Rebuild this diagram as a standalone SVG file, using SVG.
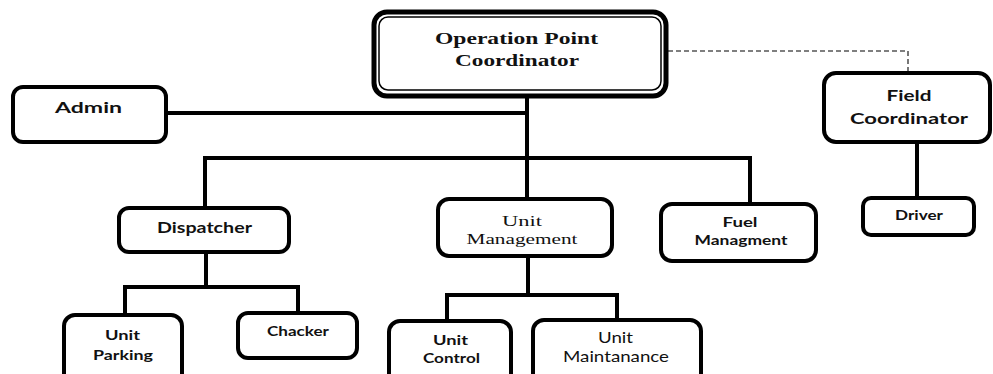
<svg xmlns="http://www.w3.org/2000/svg" width="993" height="374" viewBox="0 0 993 374">
  <style>
    .box { fill: #fff; stroke: #000; stroke-width: 4; }
    .link { fill: none; stroke: #000; stroke-width: 4; }
    .dash { fill: none; stroke: #555; stroke-width: 1.6; stroke-dasharray: 5 3; }
    text { text-anchor: middle; fill: #111; }
    .sans { font-family: Lato, "Liberation Sans", sans-serif; font-weight: bold; font-size: 15px; }
    .sansr { font-family: Lato, "Liberation Sans", sans-serif; font-size: 15px; }
    .serif { font-family: "Liberation Serif", serif; font-size: 15px; }
    .serifb { font-family: "Liberation Serif", serif; font-weight: bold; font-size: 17px; }
  </style>
  <rect width="993" height="374" fill="#fff"/>

  <!-- connectors -->
  <g id="connectors">
    <polyline class="dash" points="668,51 908,51 908,72"/>
    <line class="link" x1="527" y1="97" x2="527" y2="199"/>
    <line class="link" x1="167" y1="113" x2="527" y2="113"/>
    <polyline class="link" points="205,207 205,158 750,158 750,204"/>
    <polyline class="link" points="206,252 206,287"/>
    <polyline class="link" points="125,315 125,287 298,287 298,313"/>
    <line class="link" x1="528" y1="256" x2="528" y2="295"/>
    <polyline class="link" points="447,321 447,295 617,295 617,320"/>
    <line class="link" x1="917" y1="142" x2="917" y2="198"/>
  </g>

  <!-- Operation Point Coordinator: double border -->
  <g id="opc">
    <rect x="374" y="12" width="292" height="84" rx="13" fill="#fff" stroke="#000" stroke-width="5"/>
    <rect x="379" y="17" width="282" height="73" rx="9" fill="none" stroke="#000" stroke-width="1.5"/>
    <text class="serifb" x="516.5" y="44" textLength="163" lengthAdjust="spacingAndGlyphs">Operation Point</text>
    <text class="serifb" x="517" y="66" textLength="124" lengthAdjust="spacingAndGlyphs">Coordinator</text>
  </g>

  <g id="admin">
    <rect class="box" x="13" y="87" width="153" height="55" rx="10"/>
    <text class="sans" x="88.5" y="113" textLength="67" lengthAdjust="spacingAndGlyphs">Admin</text>
  </g>

  <g id="field">
    <rect class="box" x="824" y="73" width="166" height="69" rx="12"/>
    <text class="sans" x="909" y="101" style="font-size:15.5px" textLength="45" lengthAdjust="spacingAndGlyphs">Field</text>
    <text class="sans" x="909" y="124" style="font-size:15.5px" textLength="118" lengthAdjust="spacingAndGlyphs">Coordinator</text>
  </g>

  <g id="driver">
    <rect class="box" x="863" y="198" width="111" height="37" rx="8"/>
    <text class="sans" x="919" y="220" style="font-size:12.5px" textLength="48" lengthAdjust="spacingAndGlyphs">Driver</text>
  </g>

  <g id="dispatcher">
    <rect class="box" x="119" y="208" width="170" height="44" rx="10"/>
    <text class="sans" x="204.5" y="233" textLength="95" lengthAdjust="spacingAndGlyphs">Dispatcher</text>
  </g>

  <g id="unitmgmt">
    <rect class="box" x="438" y="199" width="174" height="57" rx="11"/>
    <text class="serif" x="522" y="226" textLength="40" lengthAdjust="spacingAndGlyphs">Unit</text>
    <text class="serif" x="522" y="244" textLength="111" lengthAdjust="spacingAndGlyphs">Management</text>
  </g>

  <g id="fuel">
    <rect class="box" x="661" y="204" width="155" height="57" rx="11"/>
    <text class="sans" x="740" y="227" style="font-size:13px" textLength="35" lengthAdjust="spacingAndGlyphs">Fuel</text>
    <text class="sans" x="741" y="245" style="font-size:13px" textLength="93" lengthAdjust="spacingAndGlyphs">Managment</text>
  </g>

  <g id="parking">
    <rect class="box" x="64" y="315" width="118" height="70" rx="11"/>
    <text class="sans" x="122.5" y="340" style="font-size:14px" textLength="35" lengthAdjust="spacingAndGlyphs">Unit</text>
    <text class="sans" x="123" y="360" style="font-size:14px" textLength="60" lengthAdjust="spacingAndGlyphs">Parking</text>
  </g>

  <g id="chacker">
    <rect class="box" x="238" y="313" width="119" height="45" rx="10"/>
    <text class="sans" x="298" y="336" style="font-size:13px" textLength="62" lengthAdjust="spacingAndGlyphs">Chacker</text>
  </g>

  <g id="control">
    <rect class="box" x="389" y="321" width="122" height="63" rx="11"/>
    <text class="sans" x="450.5" y="345" style="font-size:14px" textLength="35" lengthAdjust="spacingAndGlyphs">Unit</text>
    <text class="sans" x="451.5" y="363" style="font-size:14px" textLength="57" lengthAdjust="spacingAndGlyphs">Control</text>
  </g>

  <g id="maint">
    <rect class="box" x="533" y="320" width="168" height="65" rx="11"/>
    <text class="sansr" x="615.5" y="343" textLength="35" lengthAdjust="spacingAndGlyphs">Unit</text>
    <text class="sansr" x="616" y="362" textLength="106" lengthAdjust="spacingAndGlyphs">Maintanance</text>
  </g>
</svg>
